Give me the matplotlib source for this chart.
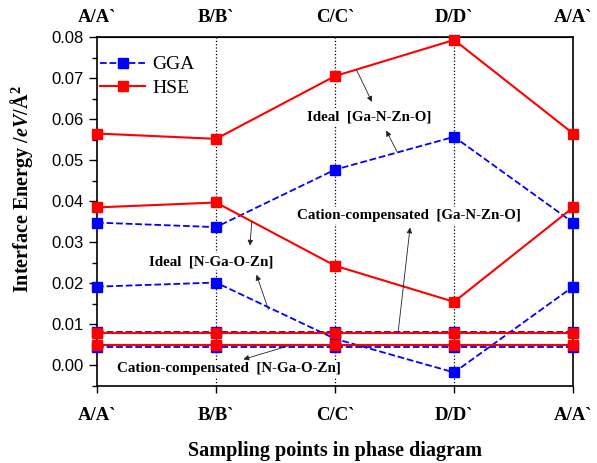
import numpy as np
import matplotlib
matplotlib.use('Agg')
import matplotlib.pyplot as plt

plt.rcParams['mathtext.fontset'] = 'custom'
plt.rcParams['mathtext.rm'] = 'Liberation Serif:bold'
plt.rcParams['mathtext.bf'] = 'Liberation Serif:bold'
plt.rcParams['mathtext.it'] = 'Liberation Serif:italic:bold'

# sampling points in the phase diagram
points = ['A/A`', 'B/B`', 'C/C`', 'D/D`', 'A/A`']
x = np.arange(len(points))

# ideal [Ga-N-Zn-O]
hse_ideal_ganzno = [0.0565, 0.0552, 0.0705, 0.0793, 0.0565]
gga_ideal_ganzno = [0.0348, 0.0337, 0.0477, 0.0557, 0.0348]
# ideal [N-Ga-O-Zn]
hse_ideal_ngaozn = [0.0385, 0.0397, 0.0243, 0.0155, 0.0385]
gga_ideal_ngaozn = [0.0192, 0.0202, 0.0065, -0.0017, 0.0192]
# cation-compensated interfaces
hse_cat_ganzno = [0.0079, 0.0079, 0.0079, 0.0079, 0.0079]
gga_cat_ganzno = [0.0082, 0.0082, 0.0082, 0.0082, 0.0082]
hse_cat_ngaozn = [0.0049, 0.0049, 0.0049, 0.0049, 0.0049]
gga_cat_ngaozn = [0.0046, 0.0046, 0.0046, 0.0046, 0.0046]

fig = plt.figure(figsize=(5.97, 4.63), dpi=100)
ax = fig.add_axes([0.1625, 0.1663, 0.7975, 0.7537])

# vertical guides at B, C, D
for xv in x[1:-1]:
    ax.axvline(xv, color='black', linestyle=':', linewidth=0.9, zorder=1)

gga_style = dict(color='#0000ff', linestyle='--', linewidth=1.3, marker='s', markersize=7, zorder=3)
hse_style = dict(color='#ff0000', linestyle='-', linewidth=1.5, marker='s', markersize=7.5, zorder=4)

for vals in [gga_ideal_ganzno, gga_ideal_ngaozn, gga_cat_ganzno, gga_cat_ngaozn]:
    ax.plot(x, vals, clip_on=False, **gga_style)
for vals in [hse_ideal_ganzno, hse_ideal_ngaozn, hse_cat_ganzno, hse_cat_ngaozn]:
    ax.plot(x, vals, clip_on=False, **hse_style)

# legend proxies
ax.plot([], [], label='GGA', **gga_style)
ax.plot([], [], label='HSE', **hse_style)
ax.legend(loc='upper left', bbox_to_anchor=(-0.022, 0.985), frameon=False,
          handlelength=2.3, handletextpad=0.4,
          prop={'family': 'Liberation Serif', 'size': 14},
          borderaxespad=0.5, borderpad=0.2, labelspacing=0.3)

ax.set_xlim(0, 4)
ax.set_ylim(-0.005, 0.08)
ax.set_yticks(np.arange(0, 0.081, 0.01))
ax.set_yticks(np.arange(-0.005, 0.081, 0.005), minor=True)
ax.yaxis.set_major_formatter(plt.FuncFormatter(lambda v, p: f'{v:.2f}'))
ax.set_xticks(x)
ax.set_xticklabels(points, family='Liberation Serif', fontweight='bold', fontsize=13.5)
for lbl in ax.get_yticklabels():
    lbl.set_family('Liberation Sans')
    lbl.set_fontsize(12)
ax.tick_params(axis='y', which='major', direction='out', length=6, width=1)
ax.tick_params(axis='y', which='minor', direction='out', length=3.5, width=1)
ax.tick_params(axis='x', direction='out', length=5, width=1, pad=10)
for sp in ax.spines.values():
    sp.set_linewidth(1.2)

top = ax.secondary_xaxis('top')
top.set_xticks(x)
top.set_xticklabels(points, family='Liberation Serif', fontweight='bold', fontsize=13.5)
top.tick_params(length=0, pad=8)

ax.set_ylabel(r'Interface Energy /$\it{eV}$/Å$^{2}$', family='Liberation Serif',
              fontweight='bold', fontsize=14.5)
ax.yaxis.set_label_coords(-0.13, 0.565)
ax.set_xlabel('Sampling points in phase diagram', family='Liberation Serif',
              fontweight='bold', fontsize=14.5, labelpad=12)

txt = dict(family='Liberation Serif', fontweight='bold', fontsize=10.8, ha='center', va='center',
           bbox=dict(facecolor='white', edgecolor='none', pad=1.5), zorder=6)
arrow = dict(arrowstyle='-|>', color='#222222', lw=0.6, mutation_scale=8, shrinkA=0, shrinkB=0)

ax.text(2.29, 0.0605, 'Ideal  [Ga-N-Zn-O]', **txt)
ax.annotate('', xy=(2.31, 0.0642), xytext=(2.18, 0.0720), arrowprops=arrow, zorder=6)
ax.annotate('', xy=(2.43, 0.0572), xytext=(2.52, 0.0521), arrowprops=arrow, zorder=6)

ax.text(2.62, 0.0365, 'Cation-compensated  [Ga-N-Zn-O]', **txt)
ax.annotate('', xy=(2.63, 0.0336), xytext=(2.53, 0.0081), arrowprops=arrow, zorder=6)

ax.text(0.96, 0.0253, 'Ideal  [N-Ga-O-Zn]', **txt)
ax.annotate('', xy=(1.285, 0.0292), xytext=(1.30, 0.0350), arrowprops=arrow, zorder=6)
ax.annotate('', xy=(1.34, 0.0221), xytext=(1.44, 0.0136), arrowprops=arrow, zorder=6)

ax.text(1.11, -0.0007, 'Cation-compensated  [N-Ga-O-Zn]', **txt)
ax.annotate('', xy=(1.23, 0.0015), xytext=(1.60, 0.0047), arrowprops=arrow, zorder=6)

fig.savefig('out.png', dpi=100)
